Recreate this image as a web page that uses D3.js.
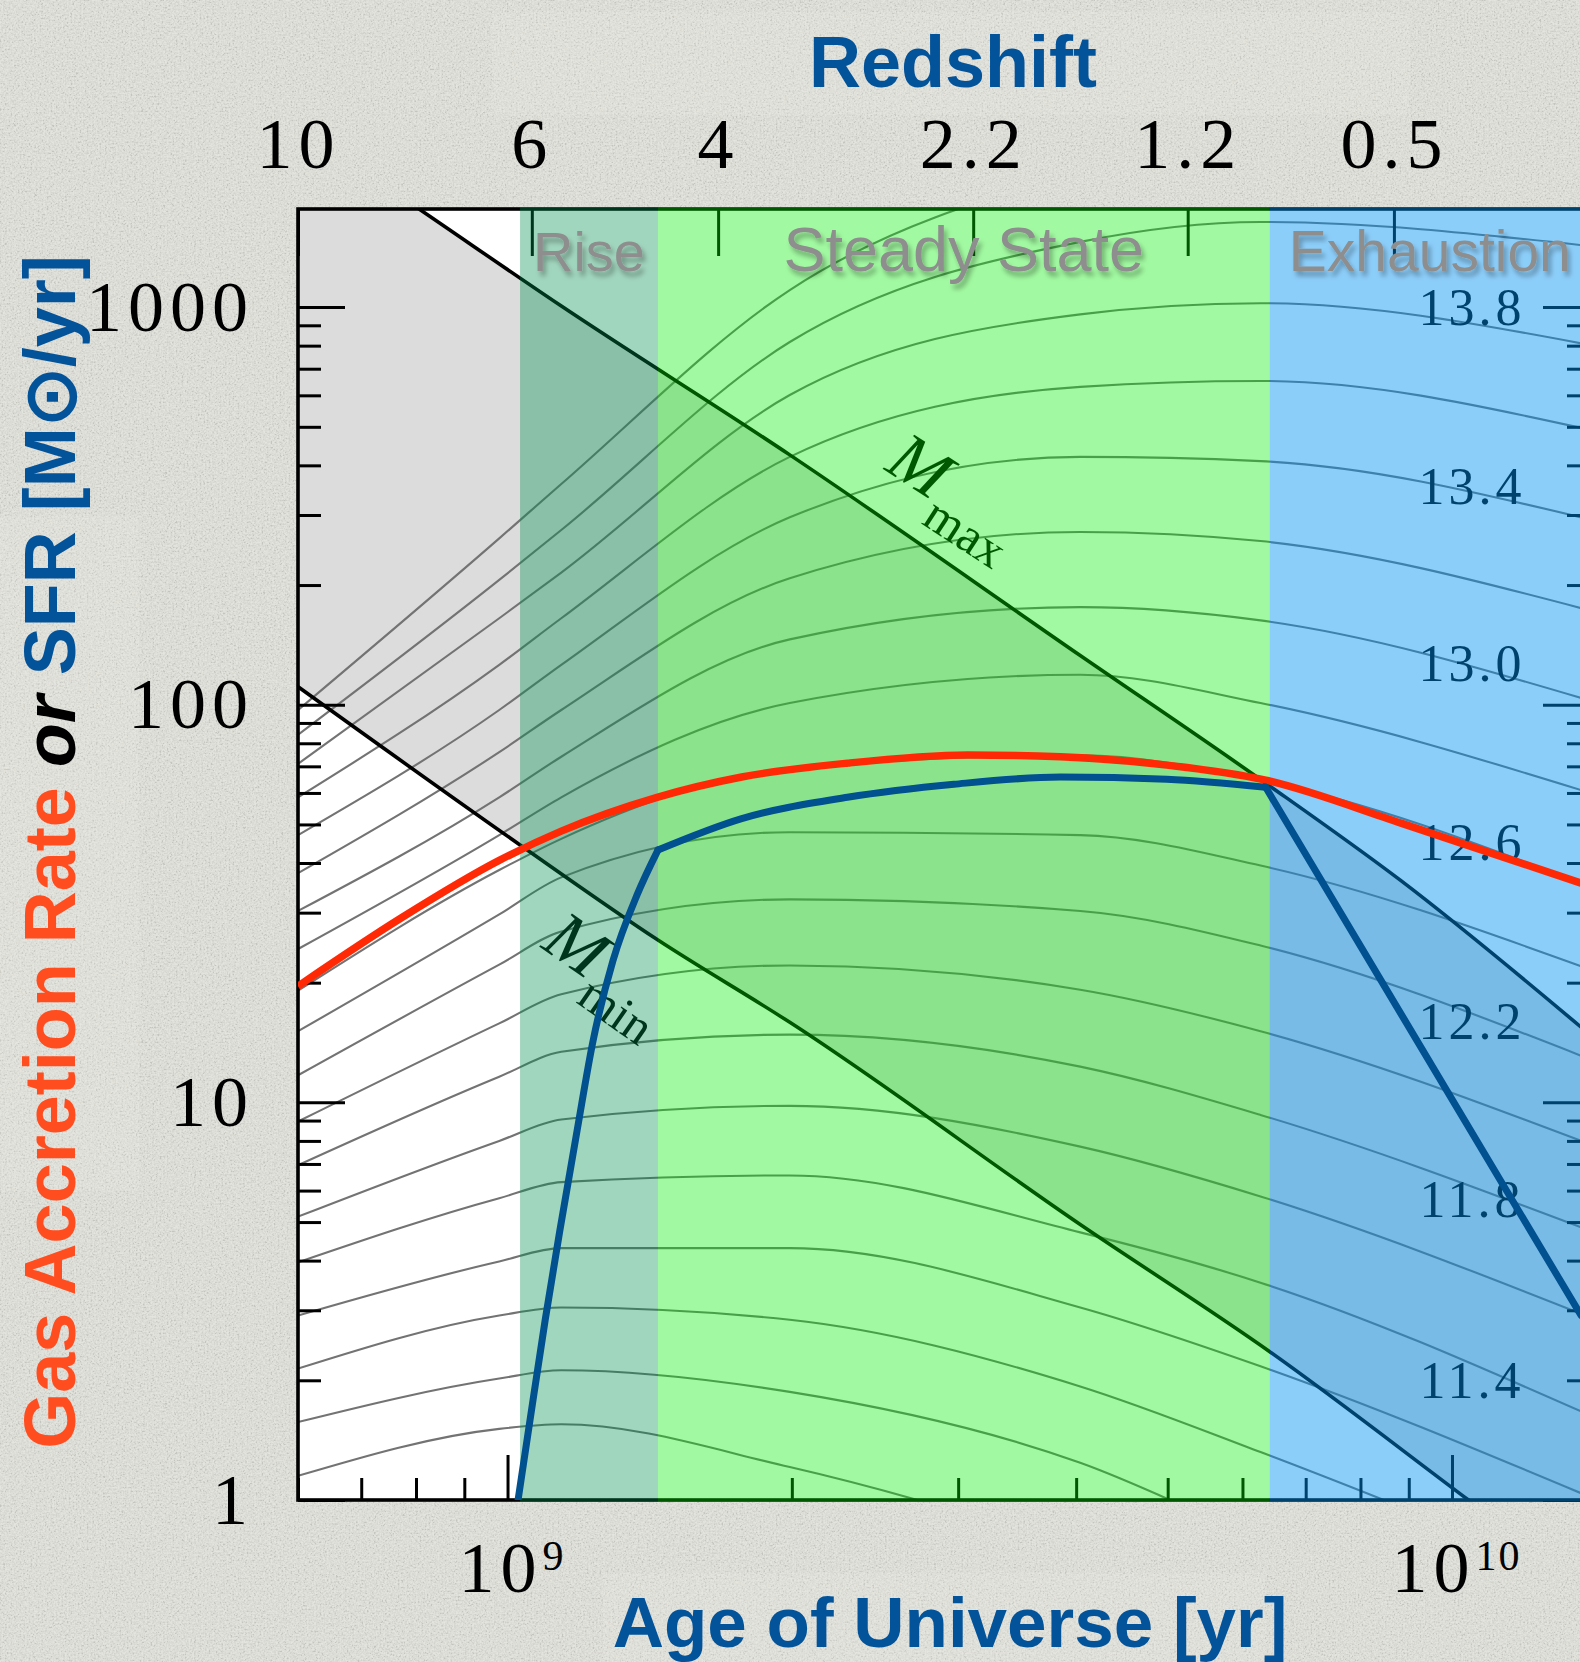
<!DOCTYPE html>
<html>
<head>
<meta charset="utf-8">
<script src="https://cdn.jsdelivr.net/npm/d3@7"></script>
<style>
  html, body { margin: 0; padding: 0; background: #d8d8d2; }
  svg { display: block; }
</style>
</head>
<body>
<svg id="chart" width="1580" height="1662"></svg>
<script>
// ---------------- data ----------------
// Accretion tracks of halos, labelled by log halo mass at z = 0 (rates in Msun/yr)
const trackAgesGyr = [0.60, 0.98, 1.14, 1.99, 4.04, 6.27, 13.7];
const trackMasses = [14.2, 14.0, 13.8, 13.6, 13.4, 13.2, 13.0, 12.8, 12.6, 12.4,
                     12.2, 12.0, 11.8, 11.6, 11.4, 11.2, 11.0, 10.8, 10.6];
const trackRates = [
  [97, 262, 359, 1104, 2190],
  [84, 206, 275, 817, 1459, 1637, 1432],
  [71, 165, 215, 601, 959, 1023, 811],
  [58.5, 126, 165, 420, 630, 652, 497],
  [47, 97, 126, 296, 420, 410, 296],
  [37.7, 76, 97, 208, 272, 258, 175],
  [30.3, 58.5, 74, 146, 176, 163, 104],
  [24.3, 47, 58.5, 101, 119, 101, 61],
  [19.1, 38.4, 46, 69, 74.6, 64.6, 35.6],
  [15.1, 29.7, 36.8, 47.8, 47, 39.4, 22],
  [11.7, 22.2, 26.9, 32.4, 30.3, 24.8, 13.1],
  [8.95, 15.8, 18.7, 22.1, 19.2, 15.1, 8.0],
  [6.95, 11.6, 13.4, 14.8, 12.3, 9.3, 4.85],
  [5.16, 8.0, 9.06, 9.8, 7.74, 5.8, 2.94],
  [3.96, 5.74, 6.3, 6.55, 4.71, 3.52, 1.67],
  [2.91, 3.98, 4.3, 4.3, 3.05, 2.17, 1.04],
  [2.14, 2.91, 3.05, 2.84, 1.93, 1.32, 0.63],
  [1.57, 2.02, 2.12, 1.87, 1.24, 0.79, 0.35],
  [1.15, 1.51, 1.55, 1.21, 0.75, 0.52, 0.25]
];
const massLabels = ["13.8", "13.4", "13.0", "12.6", "12.2", "11.8", "11.4"];
const massLabelRates = [1000, 355, 127, 45, 16, 5.7, 2.0];
const massLabelAgeGyr = 10.5;

// Gas accretion rate of the galaxy
const accretionAgesGyr = [0.60, 0.77, 0.98, 1.14, 1.44, 1.77, 2.29, 3.07, 3.85, 4.99, 6.35, 8.83, 13.7];
const accretionRates   = [19.6, 29.0, 40.6, 48.1, 58.5, 65.8, 71.3, 74.8, 74.0, 70.5, 64.6, 50.4, 35.6];

// Star formation rate
const sfrAgesGyr = [1.026, 1.056, 1.096, 1.136, 1.185, 1.232, 1.293, 1.371, 1.443,
                    1.77, 2.29, 2.97, 3.85, 4.99, 6.35, 13.7];
const sfrRates   = [1.0, 1.58, 2.83, 4.76, 8.51, 14.3, 22.7, 33.2, 43.1,
                    51.7, 58.5, 63.1, 65.8, 65.0, 62.0, 2.91];

// Accretion onto halos at the mass ceiling and the mass floor
const mMaxAgesGyr = [0.60, 0.806, 1.136, 1.99, 4.04, 6.35, 8.83, 14.0];
const mMaxRates   = [2840, 1765, 1012, 425, 133, 63.5, 36.1, 14.8];
const mMinAgesGyr = [0.60, 1.031, 1.443, 1.99, 4.04, 6.43, 10.41, 14.0];
const mMinRates   = [111, 44.4, 25.6, 15.9, 4.93, 2.35, 1.0, 0.59];

// Phases
const phaseNames    = ["Rise", "Steady State", "Exhaustion"];
const phaseStartGyr = [1.031, 1.443, 6.41];
const phaseEndGyr   = [1.443, 6.41, 14.0];
const phaseFills    = ["rgba(0,144,79,0.37)", "rgba(0,241,0,0.37)", "rgba(0,146,244,0.45)"];
const phaseFontSize = [56, 63, 57];

// Redshift axis
const zLabels  = ["10", "6", "4", "2.2", "1.2", "0.5"];
const zAgesGyr = [0.60, 1.061, 1.671, 3.112, 5.25, 8.68];

// Rate and age axes
const yMajorTicks = [1, 10, 100, 1000];
const xMajorTicks = [1e9, 1e10];

// ---------------- layout ----------------
const plot = { left: 298, right: 1590, top: 209, bottom: 1500 };
const blue = "#03539a";
const orange = "#ff4d1f";
const serif = "'Liberation Serif','Times New Roman',serif";
const sans = "'Liberation Sans',Arial,Helvetica,sans-serif";

const svg = d3.select("#chart");
const defs = svg.append("defs");

// paper grain
const grain = defs.append("filter").attr("id", "grain")
  .attr("filterUnits", "userSpaceOnUse").attr("x", 0).attr("y", 0).attr("width", 1580).attr("height", 1662);
grain.append("feTurbulence").attr("type", "fractalNoise").attr("baseFrequency", 0.55)
  .attr("numOctaves", 4).attr("seed", 11);
grain.append("feColorMatrix").attr("type", "saturate").attr("values", 0);
const ct = grain.append("feComponentTransfer");
["feFuncR", "feFuncG", "feFuncB"].forEach(f =>
  ct.append(f).attr("type", "linear").attr("slope", 2.6).attr("intercept", -0.8));
ct.append("feFuncA").attr("type", "linear").attr("slope", 0).attr("intercept", 1);

// soft shadow for phase names
const shadow = defs.append("filter").attr("id", "shadow")
  .attr("x", "-10%").attr("y", "-30%").attr("width", "130%").attr("height", "170%");
shadow.append("feGaussianBlur").attr("in", "SourceAlpha").attr("stdDeviation", 2.5).attr("result", "b");
shadow.append("feOffset").attr("in", "b").attr("dx", 3).attr("dy", 5).attr("result", "o");
shadow.append("feFlood").attr("flood-color", "#000").attr("flood-opacity", 0.3).attr("result", "c");
shadow.append("feComposite").attr("in", "c").attr("in2", "o").attr("operator", "in").attr("result", "s");
const sm = shadow.append("feMerge");
sm.append("feMergeNode").attr("in", "s");
sm.append("feMergeNode").attr("in", "SourceGraphic");

defs.append("clipPath").attr("id", "plotClip").append("rect")
  .attr("x", plot.left).attr("y", plot.top)
  .attr("width", plot.right - plot.left).attr("height", plot.bottom - plot.top);

// background
svg.append("rect").attr("width", 1580).attr("height", 1662).attr("fill", "#e2e2dc");
svg.append("rect").attr("width", 1580).attr("height", 1662).attr("filter", "url(#grain)").attr("opacity", 0.12);
const patches = [[492, 12, 918, 103], [0, 516, 139, 675], [603, 1573, 662, 89]];
patches.forEach(p => svg.append("rect").attr("x", p[0]).attr("y", p[1]).attr("width", p[2]).attr("height", p[3])
  .attr("fill", "#eeeee8").attr("opacity", 0.14));

// scales
const x = d3.scaleLog().domain([6.0e8, 1.4e10]).range([plot.left, plot.right]);
const y = d3.scaleLog().domain([1, 1765]).range([plot.bottom, plot.top]);

const line = d3.line().x(d => x(d[0] * 1e9)).y(d => y(d[1])).curve(d3.curveMonotoneX);
const straight = d3.line().x(d => x(d[0] * 1e9)).y(d => y(d[1]));
const pairs = (ages, vals) => vals.map((v, i) => [ages[i], v]);

// ---------------- base layer ----------------
const base = svg.append("g");
const inner = base.append("g").attr("clip-path", "url(#plotClip)");
inner.append("rect").attr("x", plot.left).attr("y", plot.top)
  .attr("width", plot.right - plot.left).attr("height", plot.bottom - plot.top).attr("fill", "#ffffff");

// band between the mass ceiling and floor
const upper = pairs(mMaxAgesGyr, mMaxRates);
const lower = pairs(mMinAgesGyr, mMinRates).reverse();
inner.append("path")
  .attr("d", line(upper) + "L" + line(lower).slice(1) + "Z")
  .attr("fill", "#dcdcdc");

// halo tracks
inner.append("g").selectAll("path").data(trackRates).join("path")
  .attr("d", vals => line(pairs(trackAgesGyr, vals)))
  .attr("fill", "none").attr("stroke", "#737373").attr("stroke-width", 2.1);

// ceiling / floor lines
inner.append("path").attr("d", line(upper)).attr("fill", "none")
  .attr("stroke", "#000").attr("stroke-width", 3.6);
inner.append("path").attr("d", line(pairs(mMinAgesGyr, mMinRates))).attr("fill", "none")
  .attr("stroke", "#000").attr("stroke-width", 3.6);

// mass labels on the tracks
inner.append("g").selectAll("text").data(massLabels).join("text")
  .attr("x", x(massLabelAgeGyr * 1e9)).attr("y", (d, i) => y(massLabelRates[i]))
  .attr("dy", "0.34em").attr("text-anchor", "middle")
  .style("font-family", serif).style("font-size", "52px").style("letter-spacing", "4px")
  .attr("fill", "#000").text(d => d);

// M_max / M_min annotations
function massLimitLabel(ageGyr, rate, angle, sub) {
  const t = inner.append("text")
    .attr("transform", `translate(${x(ageGyr * 1e9)},${y(rate)}) rotate(${angle})`)
    .style("font-family", serif).attr("fill", "#000");
  t.append("tspan").style("font-style", "italic").style("font-size", "70px").text("M");
  t.append("tspan").attr("dx", 2).attr("dy", 25).style("font-size", "50px").text(sub);
}
massLimitLabel(2.50, 391, 33, "max");
massLimitLabel(1.082, 24.6, 35, "min");

// ---------------- axes ----------------
const axisStyle = g => {
  g.select(".domain").remove();
  g.selectAll(".tick line").attr("stroke", "#000").attr("stroke-width", 3);
  g.attr("font-family", serif).attr("font-size", 72);
  g.selectAll(".tick text").attr("fill", "#000").style("letter-spacing", "6px");
};
const yMinorTicks = y.ticks().filter(v => !yMajorTicks.includes(v));
const xMinorTicks = x.ticks().filter(v => !xMajorTicks.some(m => Math.abs(m - v) < 1));

base.append("g").attr("transform", `translate(${plot.left},0)`)
  .call(d3.axisLeft(y).tickValues(yMinorTicks).tickSize(-23).tickFormat(""))
  .call(axisStyle);
base.append("g").attr("transform", `translate(${plot.left},0)`)
  .call(d3.axisLeft(y).tickValues(yMajorTicks).tickSize(-47).tickPadding(44).tickFormat(d3.format("d")))
  .call(axisStyle);
base.append("g").attr("transform", `translate(${plot.right},0)`)
  .call(d3.axisRight(y).tickValues(yMinorTicks).tickSize(-23).tickFormat(""))
  .call(axisStyle);
base.append("g").attr("transform", `translate(${plot.right},0)`)
  .call(d3.axisRight(y).tickValues(yMajorTicks).tickSize(-47).tickFormat(""))
  .call(axisStyle);

base.append("g").attr("transform", `translate(0,${plot.bottom})`)
  .call(d3.axisBottom(x).tickValues(xMinorTicks).tickSize(-22).tickFormat(""))
  .call(axisStyle);
const gxMajor = base.append("g").attr("transform", `translate(0,${plot.bottom})`)
  .call(d3.axisBottom(x).tickValues(xMajorTicks).tickSize(-45).tickPadding(41).tickFormat(""))
  .call(axisStyle);
gxMajor.selectAll(".tick text").each(function (d) {
  const t = d3.select(this).attr("dx", 4);
  t.append("tspan").text("10");
  t.append("tspan").attr("dy", -22).style("font-size", "42px").style("letter-spacing", "2px")
    .text(Math.round(Math.log10(d)));
});

base.append("g").attr("transform", `translate(0,${plot.top})`)
  .call(d3.axisTop(x).tickValues(zAgesGyr.map(a => a * 1e9)).tickSize(-47).tickPadding(41)
    .tickFormat((d, i) => zLabels[i]))
  .call(axisStyle);

// frame
base.append("rect").attr("x", plot.left).attr("y", plot.top)
  .attr("width", plot.right - plot.left).attr("height", plot.bottom - plot.top)
  .attr("fill", "none").attr("stroke", "#000").attr("stroke-width", 3.6);

// ---------------- phase overlays ----------------
const phases = phaseNames.map((n, i) => ({ name: n, a: phaseStartGyr[i] * 1e9, b: phaseEndGyr[i] * 1e9, fill: phaseFills[i], fs: phaseFontSize[i] }));
svg.append("g").selectAll("rect").data(phases).join("rect")
  .attr("x", d => x(d.a)).attr("width", d => x(d.b) - x(d.a))
  .attr("y", plot.top - 1.8).attr("height", plot.bottom - plot.top + 3.6)
  .attr("fill", d => d.fill);

svg.append("g").attr("clip-path", "url(#plotClip)").selectAll("text").data(phases).join("text")
  .attr("x", d => (x(d.a) + Math.min(x(d.b), plot.right)) / 2)
  .attr("y", 271).attr("text-anchor", "middle")
  .style("font-family", sans).style("font-size", d => d.fs + "px")
  .attr("fill", "#8e8e8e").attr("filter", "url(#shadow)")
  .text(d => d.name);

// ---------------- accretion and SFR ----------------
const front = svg.append("g").attr("clip-path", "url(#plotClip)");
front.append("path").attr("d", line(pairs(accretionAgesGyr, accretionRates)))
  .attr("fill", "none").attr("stroke", "#ff2a05").attr("stroke-width", 7.5);

// SFR drawn phase by phase so the kinks at the phase changes stay sharp
const sfrPts = pairs(sfrAgesGyr, sfrRates);
phaseStartGyr.forEach((s, i) => {
  const e = phaseEndGyr[i];
  const seg = sfrPts.filter(p => (i === 0 || p[0] >= s - 1e-6) && p[0] <= e + 1e-6);
  const before = sfrPts.filter(p => p[0] < s - 1e-6);
  const pts = (i > 0 && before.length && seg[0][0] > s + 1e-6) ? [before[before.length - 1], ...seg] : seg;
  if (pts.length < 2) return;
  front.append("path").attr("d", (i === 2 ? straight : line)(pts))
    .attr("fill", "none").attr("stroke", "#01508f").attr("stroke-width", 7)
    .attr("stroke-linejoin", "round").attr("stroke-linecap", "round");
});

// ---------------- titles ----------------
svg.append("text").attr("x", 953).attr("y", 87).attr("text-anchor", "middle")
  .style("font-family", sans).style("font-weight", "bold").style("font-size", "72px")
  .attr("fill", blue).text("Redshift");
svg.append("text").attr("x", 950).attr("y", 1647).attr("text-anchor", "middle")
  .style("font-family", sans).style("font-weight", "bold").style("font-size", "71px")
  .attr("fill", blue).text("Age of Universe [yr]");

const yt = svg.append("text").attr("transform", "translate(75,852) rotate(-90)")
  .attr("text-anchor", "middle")
  .style("font-family", sans).style("font-weight", "bold").style("font-size", "72px");
yt.append("tspan").attr("fill", orange).text("Gas Accretion Rate ");
yt.append("tspan").attr("fill", "#000").style("font-style", "italic").text("or");
yt.append("tspan").attr("fill", blue).text(" SFR [M\u2299/yr]");
</script>
</body>
</html>
